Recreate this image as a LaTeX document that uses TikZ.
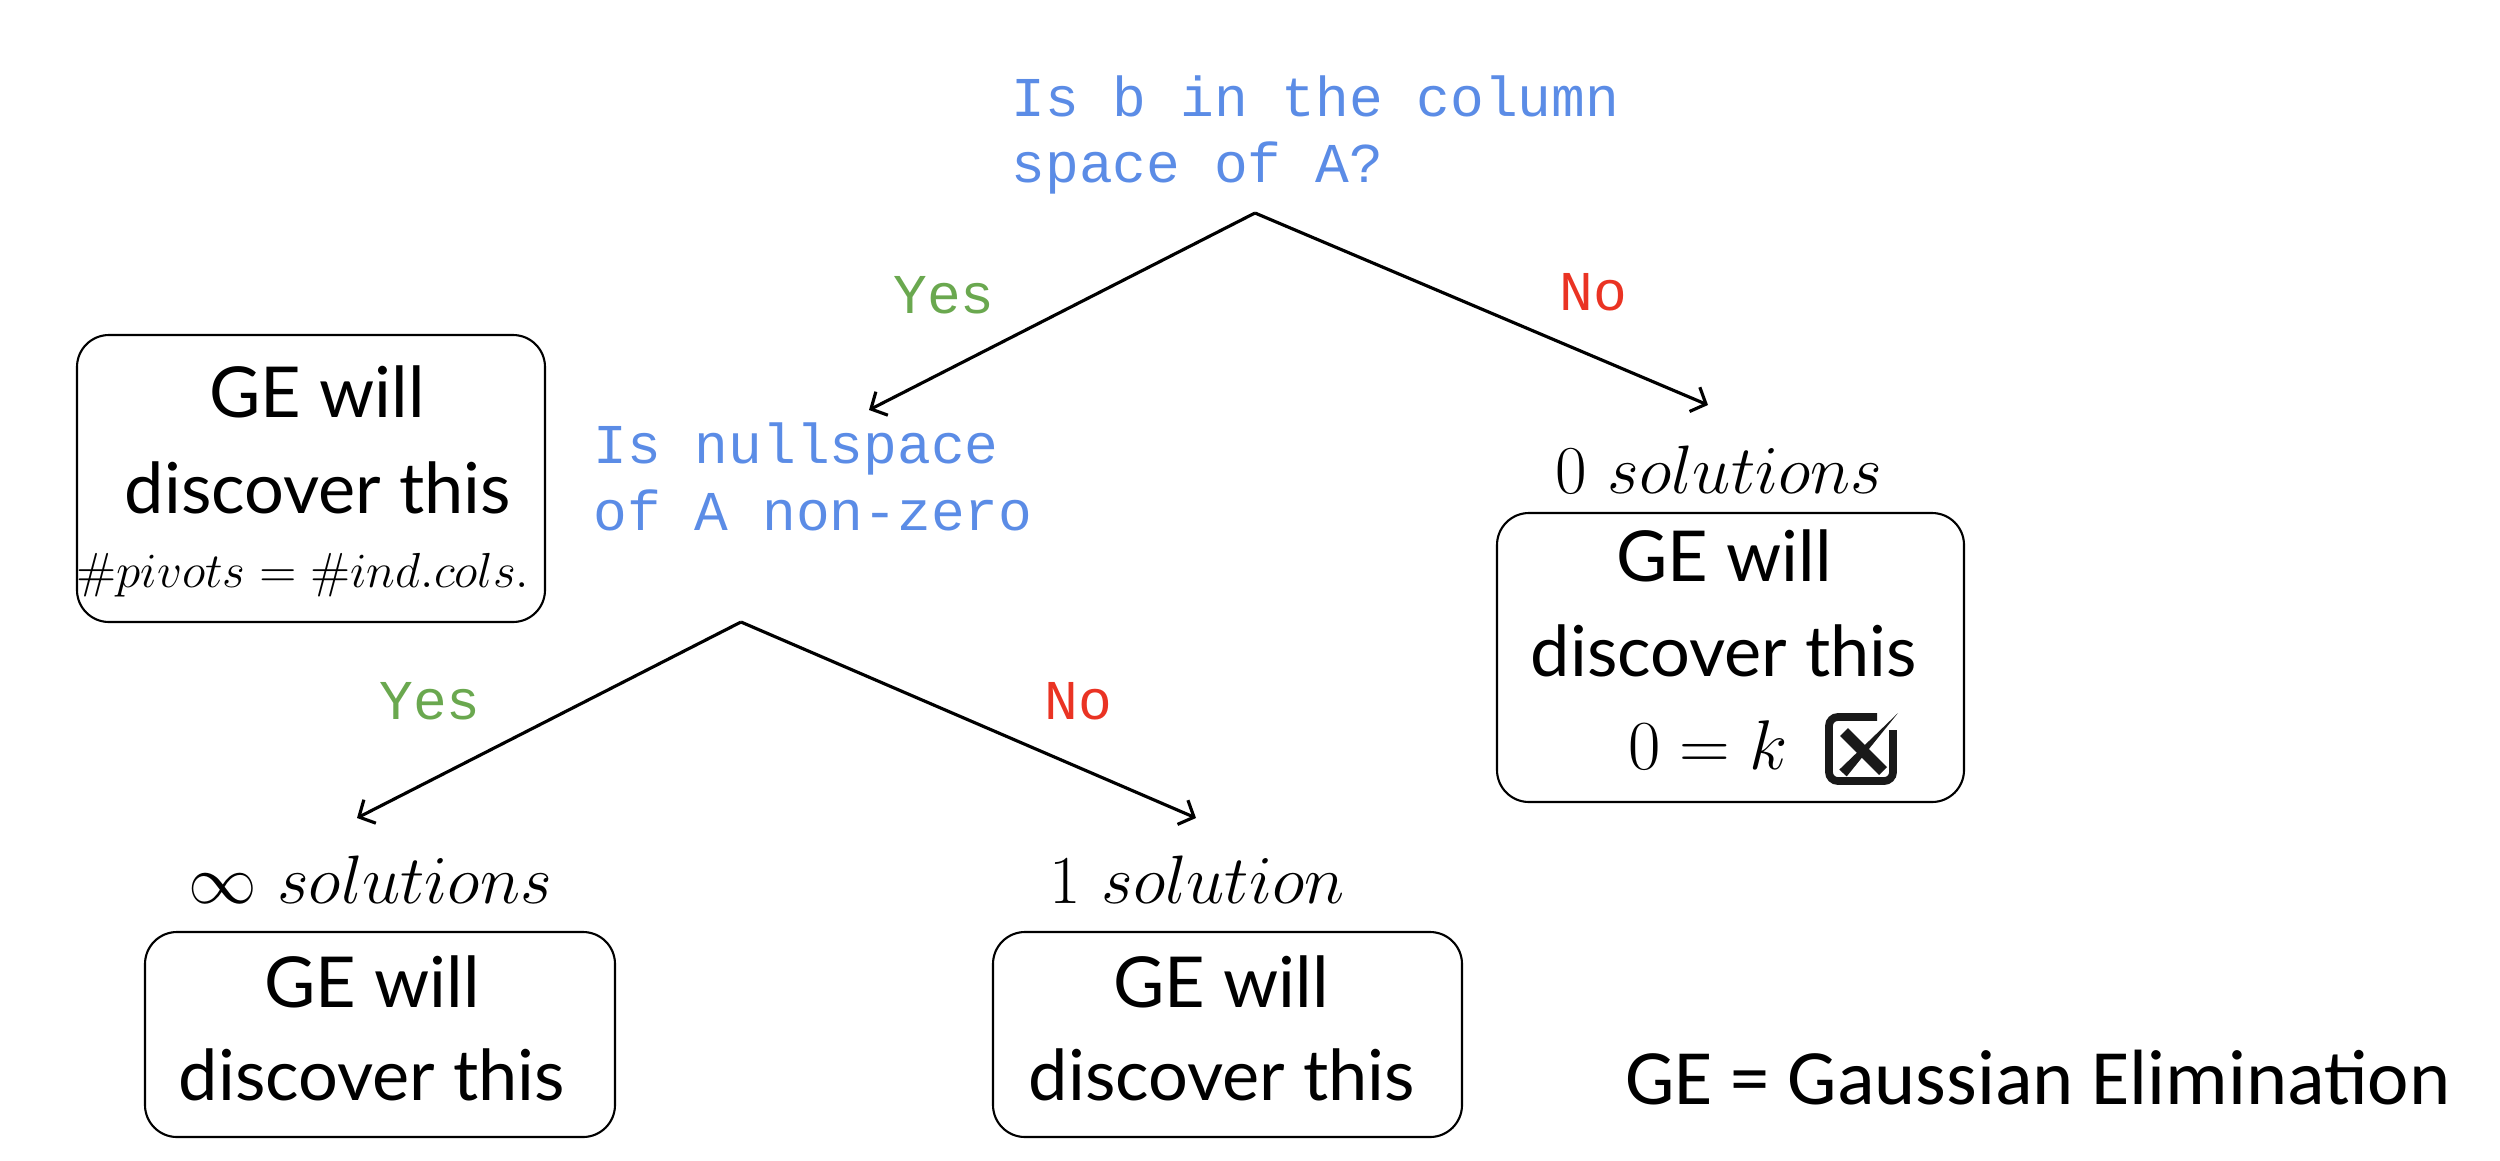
\RequirePackage{fix-cm}
\documentclass[tikz,border=0pt]{standalone}
\usepackage{fontspec}
\setmonofont{Liberation Mono}
\newfontfamily\chalkfont{Lato}
\newfontfamily\gefont{Carlito}
\usetikzlibrary{arrows.meta}
\definecolor{qblue}{RGB}{91,140,230}
\definecolor{ygreen}{RGB}{106,168,79}
\definecolor{nred}{RGB}{234,51,35}
\begin{document}
\begin{tikzpicture}[
  question/.style={font=\ttfamily\fontsize{16}{19}\selectfont, text=qblue, align=left, inner sep=0pt, anchor=west},
  yeslab/.style={font=\ttfamily\fontsize{16}{19}\selectfont, text=ygreen, inner sep=0pt},
  nolab/.style={font=\ttfamily\fontsize{16}{19}\selectfont, text=nred, inner sep=0pt},
  gebox/.style={draw, line width=0.6pt, rounded corners=0.32cm, inner sep=0pt},
  chalk/.style={font=\chalkfont\fontsize{20}{24}\selectfont, inner sep=0pt},
  sol/.style={font=\fontsize{19.5}{23}\selectfont, inner sep=0pt},
  branch/.style={line width=0.9pt, -{Straight Barb[length=3.5pt,width=7.5pt,line width=0.9pt]}},
]
\useasboundingbox (0,0) rectangle (25,-11.6);

% first question
\node[question] (q1) at (10.11,-1.35) {Is b in the column\\space of A?};
\coordinate (apex1) at (12.55,-2.13);
\coordinate (tipA) at (8.69,-4.10);
\coordinate (tipB) at (17.08,-4.05);
\draw[branch] (apex1) -- (tipA);
\draw[branch] (apex1) -- (tipB);
\node[yeslab] (yes1) at (9.44,-2.95) {Yes};
\node[nolab] (no1) at (15.93,-2.92) {No};

% left box
\node[gebox, minimum width=4.68cm, minimum height=2.87cm] (boxL) at (3.11,-4.785) {};
\node[chalk] (boxLa) at (3.17,-3.92) {GE will};
\node[chalk] (boxLb) at (3.18,-4.88) {discover this};
\node[font=\fontsize{14}{16}\selectfont, inner sep=0pt] (boxLc) at (3.03,-5.75) {$\#pivots=\#ind.cols.$};

% second question
\node[question] (q2) at (5.93,-4.77) {Is nullspace\\of A non-zero};
\coordinate (apex2) at (7.41,-6.22);
\coordinate (tipC) at (3.57,-8.18);
\coordinate (tipD) at (11.96,-8.18);
\draw[branch] (apex2) -- (tipC);
\draw[branch] (apex2) -- (tipD);
\node[yeslab] (yes2) at (4.30,-7.01) {Yes};
\node[nolab] (no2) at (10.78,-7.01) {No};

% zero solutions
\node[sol] (sol0) at (17.19,-4.70) {$0\ solutions$};
\node[gebox, minimum width=4.67cm, minimum height=2.89cm] (box0) at (17.305,-6.575) {};
\node[chalk] (box0a) at (17.24,-5.56) {GE will};
\node[chalk] (box0b) at (17.24,-6.51) {discover this};
\node[font=\fontsize{20}{23}\selectfont, inner sep=0pt] (box0c) at (17.08,-7.45) {$0=k$};
\coordinate (icon) at (18.61,-7.49);
\begin{scope}[shift={(icon)}]
  \draw[line width=2.2pt, rounded corners=2.5pt, color=black!90] (0.16,0.32) -- (-0.32,0.32) -- (-0.32,-0.32) -- (0.32,-0.32) -- (0.32,0.19);
  \draw[line width=3.2pt, color=black!90] (-0.17,0.17) -- (0.22,-0.22);
  \fill[black!90] (-0.217,-0.206) -- (-0.143,-0.274) -- (0.37,0.36) -- cycle;
\end{scope}

% infinite solutions
\node[sol] (solInf) at (3.70,-8.80) {$\infty\ solutions$};
\node[gebox, minimum width=4.70cm, minimum height=2.05cm] (boxInf) at (3.80,-10.345) {};
\node[chalk] (boxInfa) at (3.72,-9.82) {GE will};
\node[chalk] (boxInfb) at (3.72,-10.75) {discover this};

% one solution
\node[sol] (sol1) at (11.97,-8.80) {$1\ solution$};
\node[gebox, minimum width=4.69cm, minimum height=2.05cm] (box1) at (12.275,-10.345) {};
\node[chalk] (box1a) at (12.21,-9.82) {GE will};
\node[chalk] (box1b) at (12.22,-10.75) {discover this};

% legend
\node[font=\gefont\fontsize{22.3}{26}\selectfont, inner sep=0pt] (legend) at (20.38,-10.78) {GE = Gaussian Elimination};
\end{tikzpicture}
\end{document}
